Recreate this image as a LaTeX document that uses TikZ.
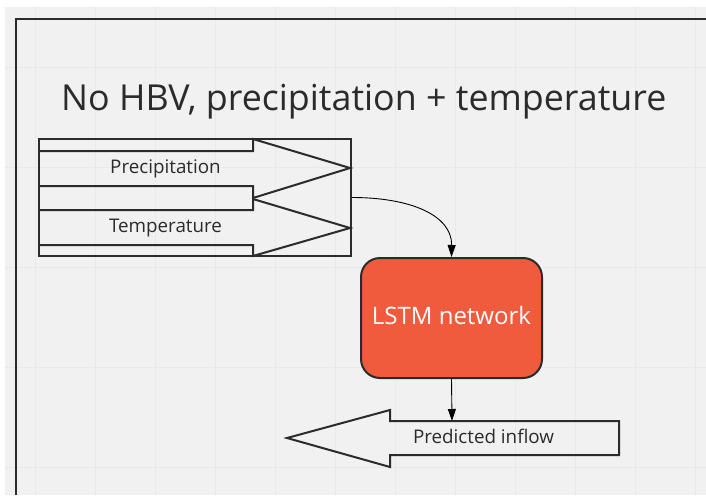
\documentclass[tikz,border=0pt]{standalone}
\usepackage{fontspec}
\setmainfont{Open Sans}
\usetikzlibrary{arrows.meta}

\definecolor{canvas}{HTML}{F1F1F1}
\definecolor{gridline}{HTML}{E9E9E9}
\definecolor{ink}{HTML}{2B2B2B}
\definecolor{lstmred}{HTML}{F05A3D}

\tikzset{
  outline/.style={draw=ink, line width=2pt, line join=miter},
  label/.style={text=ink, inner sep=0pt, anchor=base},
  flow/.style={draw=black, line width=0.9pt, -{Triangle[length=12pt,width=8pt]}},
}

\begin{document}
\begin{tikzpicture}[x=1pt, y=-1pt]
  \useasboundingbox (0,0) rectangle (706,495);
  \fill[white] (0,0) rectangle (706,495);
  \fill[canvas] (5,7) rectangle (706,495);

  % faint board grid
  \foreach \gy in {67,167,...,467}
    \draw[gridline, line width=0.7pt] (5,\gy) -- (706,\gy);
  \foreach \gx in {35,95,...,695}
    \draw[gridline, line width=0.7pt] (\gx,7) -- (\gx,495);

  % frame edges
  \draw[ink, line width=2pt] (16,495) -- (16,19) -- (706,19);

  % title
  \node[label, anchor=base west, font=\fontsize{35.8}{43}\selectfont] (title) at (61,110)
    {No HBV, precipitation + temperature};

  % input group
  \node[outline, minimum width=312pt, minimum height=117pt, inner sep=0pt] (inputs) at (195,197.5) {};

  % precipitation arrow
  \draw[outline] (39,151) -- (253,151) -- (253,139) -- (350,168) -- (253,198) -- (253,186) -- (39,186);
  \node[label, font=\fontsize{18.8}{22}\selectfont] (precip) at (165.5,173) {Precipitation};

  % temperature arrow
  \draw[outline] (39,210) -- (253,210) -- (253,199) -- (350,228) -- (253,256) -- (253,245) -- (39,245);
  \node[label, font=\fontsize{18.8}{22}\selectfont] (temp) at (165.5,232) {Temperature};

  % LSTM block
  \node[outline, fill=lstmred, rounded corners=19pt, minimum width=181pt, minimum height=120pt,
        inner sep=0pt] (lstm) at (451.5,318) {};
  \node[label, text=white, font=\fontsize{24}{29}\selectfont] (lstmtext) at (451.5,324) {LSTM network};

  % predicted inflow arrow
  \draw[outline] (390,421) -- (619,421) -- (619,455) -- (390,455) -- (390,467) -- (287,438) -- (390,410) -- cycle;
  \coordinate (inflowtop) at (452,421);
  \node[label, font=\fontsize{18.8}{22}\selectfont] (inflow) at (483.5,443) {Predicted inflow};

  % connectors
  \draw[flow] (inputs.east) .. controls (410,197.5) and (452,215) .. (lstm.north);
  \draw[flow] (lstm.south) -- (inflowtop);
\end{tikzpicture}
\end{document}
